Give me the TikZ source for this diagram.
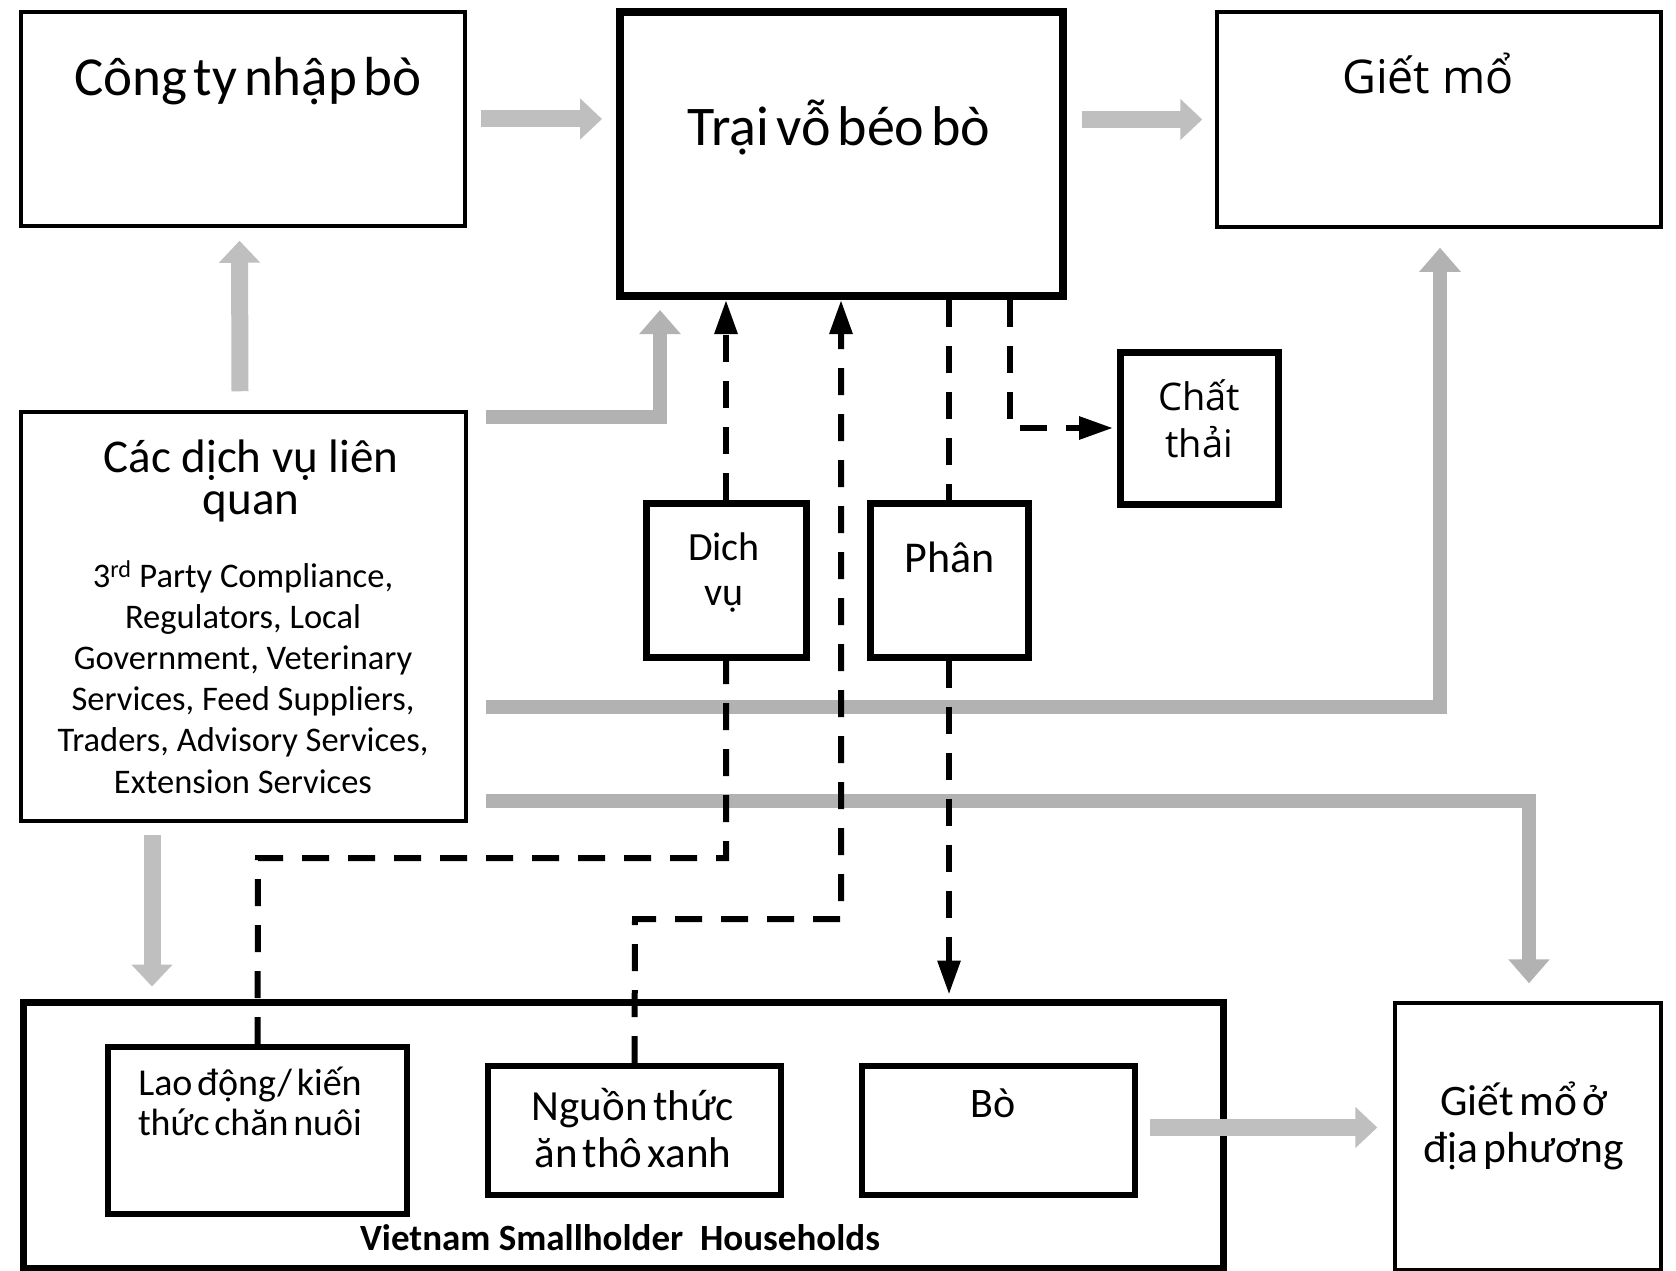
\documentclass[tikz,border=0pt]{standalone}
\usepackage{fontspec}
\setmainfont{Carlito}
\newfontfamily\tightf{Carlito}[WordSpace=0.55]
\newfontfamily\osans{Open Sans}
\usetikzlibrary{arrows.meta}
\definecolor{arrgray}{HTML}{BFBFBF}
\definecolor{lgray}{HTML}{B2B2B2}
\tikzset{
  box/.style={draw, rectangle, inner sep=0pt, line width=3.5pt},
  thickbox/.style={draw, rectangle, inner sep=0pt, line width=7pt},
  garrow/.style={draw=arrgray, line width=17pt, -{Triangle[width=40pt,length=22pt]}},
  larrow/.style={draw=lgray, line width=14pt, line join=miter, -{Triangle[width=40pt,length=24pt]}},
  dline/.style={line width=6pt, dash pattern=on 27pt off 19pt},
  dtip/.style={-{Triangle[width=22pt,length=34pt]}},
  txt/.style={inner sep=0pt, align=center, anchor=base},
}
\begin{document}
\begin{tikzpicture}[x=1pt,y=-1pt]
\useasboundingbox (0,0) rectangle (1676,1271);
\fill[white] (0,0) rectangle (1676,1271);

% boxes
\node[box, minimum width=444pt, minimum height=214pt] (cong) at (243,119) {};
\node[thickbox, line width=8pt, minimum width=443pt, minimum height=284pt] (trai) at (841.5,154) {};
\node[box, minimum width=444pt, minimum height=215pt] (giet) at (1439,119.5) {};
\node[box, minimum width=445pt, minimum height=409pt] (cac) at (243.5,616.5) {};
\node[thickbox, minimum width=158pt, minimum height=152pt] (chat) at (1199,428) {};
\node[thickbox, minimum width=160pt, minimum height=154pt] (dich) at (726,580) {};
\node[thickbox, minimum width=158pt, minimum height=154pt] (phan) at (949,580) {};
\node[thickbox, minimum width=1200pt, minimum height=266pt] (hh) at (623,1135) {};
\node[thickbox, line width=6pt, minimum width=299pt, minimum height=167pt] (lao) at (257.5,1130.5) {};
\node[thickbox, line width=6pt, minimum width=293pt, minimum height=129pt] (nguon) at (634.5,1130.5) {};
\node[thickbox, line width=6pt, minimum width=273pt, minimum height=129pt] (bo) at (998.5,1130.5) {};
\node[box, minimum width=266pt, minimum height=267pt] (dp) at (1528,1136.5) {};

% texts (anchor = baseline of the last line)
\node[txt, font=\tightf\fontsize{55}{60}\selectfont] (tcong) at (248,96) {Công ty nhập bò};
\node[txt, font=\tightf\fontsize{56}{60}\selectfont] (ttrai) at (839,146) {Trại vỗ béo bò};
\node[txt, font=\osans\fontsize{46.5}{50}\selectfont] (tgiet) at (1428,94) {Giết mổ};
\node[txt, font=\fontsize{47}{42}\selectfont] (tcac) at (251,514) {Các dịch vụ liên\\quan};
\node[txt, font=\fontsize{34.5}{41.2}\selectfont] (tcacs) at (243,793) {3\textsuperscript{rd} Party Compliance,\\Regulators, Local\\Government, Veterinary\\Services, Feed Suppliers,\\Traders, Advisory Services,\\Extension Services};
\node[txt, font=\fontsize{40}{45}\selectfont] (tdich) at (724,605) {Dich\\vụ};
\node[txt, font=\fontsize{44}{45}\selectfont] (tphan) at (950,572) {Phân};
\node[txt, font=\osans\fontsize{38}{47}\selectfont] (tchat) at (1199,457) {Chất\\thải};
\node[txt, font=\tightf\fontsize{38}{40}\selectfont] (tlao) at (250,1135) {Lao động/ kiến\\thức chăn nuôi};
\node[txt, font=\tightf\fontsize{43}{47}\selectfont] (tnguon) at (633,1167) {Nguồn thức\\ăn thô xanh};
\node[txt, font=\tightf\fontsize{42}{47}\selectfont] (tbo) at (993,1117) {Bò};
\node[txt, font=\tightf\fontsize{43.5}{47}\selectfont] (tdp) at (1524,1162) {Giết mổ ở\\địa phương};
\node[txt, font=\bfseries\fontsize{37}{40}\selectfont] (thh) at (620,1250) {Vietnam Smallholder\ \ Households};

% gray arrows
\coordinate (a1s) at ([xshift=14pt]cong.east);
\coordinate (a1e) at ([xshift=-14pt]trai.west);
\draw[garrow] (a1s) -- (a1e |- a1s);
\coordinate (a2s) at ([xshift=15pt]trai.east);
\coordinate (a2e) at ([xshift=-13pt]giet.west);
\draw[garrow] (a2s |- a2e) -- (a2e);
\coordinate (a3s) at ([xshift=-3.5pt,yshift=19pt]cac.north);
\coordinate (a3e) at ([xshift=-3.5pt,yshift=-13pt]cong.south);
\draw[garrow] (a3s) -- (a3e);
\coordinate (a4s) at ([xshift=-91.5pt,yshift=-12pt]cac.south);
\coordinate (a4e) at ([yshift=12pt]hh.north);
\draw[garrow] (a4s) -- (a4s |- a4e);
\coordinate (a5s) at ([xshift=12pt,yshift=3pt]bo.east);
\coordinate (a5e) at ([xshift=-16pt]dp.west);
\draw[garrow] (a5s) -- (a5e |- a5s);

\coordinate (cace) at ([xshift=18pt]cac.east);
\coordinate (c1) at (660,417);
\coordinate (c2) at (1440,707);
\coordinate (c3) at (1529,801);
\coordinate (t1) at ([yshift=-10pt]trai.south);
\coordinate (t2) at ([yshift=-19pt]giet.south);
\coordinate (t3) at ([yshift=18pt]dp.north);
\draw[larrow] (cace |- c1) -- (c1) -- (c1 |- t1);
\draw[larrow] (cace |- c2) -- (c2) -- (c2 |- t2);
\draw[larrow] (cace |- c3) -- (c3) -- (c3 |- t3);

% dashed connectors
\coordinate (d1) at (258,858);
\coordinate (d2) at (635,919);
\coordinate (d2x) at (841,919);
\coordinate (d3) at (1010,428);
\coordinate (hht) at ([yshift=4pt]hh.north);
\draw[dline] (lao.north) -- (d1) -- (d1 -| dich.south) -- (dich.south);
\draw[dline, dtip] (dich.north) -- (dich.north |- trai.south);
\draw[dline, dtip] (nguon.north) -- (d2) -- (d2x) -- (d2x |- trai.south);
\draw[dline] (phan.north |- trai.south) -- (phan.north);
\draw[dline, dtip] (phan.south) -- (phan.south |- hht);
\draw[dline, dtip] (d3 |- trai.south) -- (d3) -- ([xshift=-3.5pt]chat.west);
\end{tikzpicture}
\end{document}
